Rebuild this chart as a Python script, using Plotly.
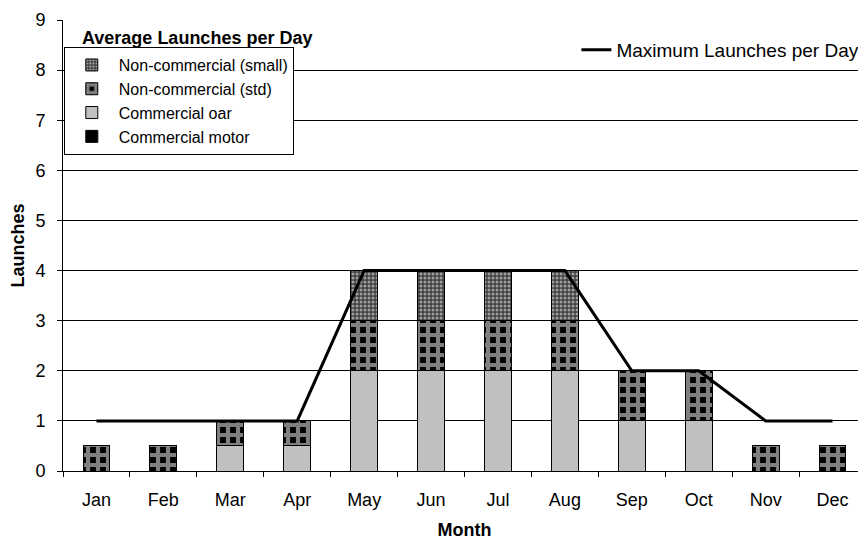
import plotly.graph_objects as go

months = ["Jan", "Feb", "Mar", "Apr", "May", "Jun", "Jul", "Aug", "Sep", "Oct", "Nov", "Dec"]
commercial_motor = [0, 0, 0, 0, 0, 0, 0, 0, 0, 0, 0, 0]
commercial_oar = [0, 0, 0.5, 0.5, 2, 2, 2, 2, 1, 1, 0, 0]
noncommercial_std = [0.5, 0.5, 0.5, 0.5, 1, 1, 1, 1, 1, 1, 0.5, 0.5]
noncommercial_small = [0, 0, 0, 0, 1, 1, 1, 1, 0, 0, 0, 0]
max_launches = [1, 1, 1, 1, 4, 4, 4, 4, 2, 2, 1, 1]

FONT = "Liberation Sans, Arial, sans-serif"
line_k = dict(color="black", width=1)

fig = go.Figure()
fig.add_trace(go.Bar(x=months, y=commercial_motor, name="Commercial motor",
                     marker=dict(color="black", line=line_k), width=0.4, legendrank=4))
fig.add_trace(go.Bar(x=months, y=commercial_oar, name="Commercial oar",
                     marker=dict(color="#c0c0c0", line=line_k), width=0.4, legendrank=3))
fig.add_trace(go.Bar(x=months, y=noncommercial_std, name="Non-commercial (std)",
                     marker=dict(color="white", line=line_k,
                                 pattern=dict(shape="+", fgcolor="white", bgcolor="black",
                                              size=10, solidity=0.66)),
                     width=0.4, legendrank=2))
fig.add_trace(go.Bar(x=months, y=noncommercial_small, name="Non-commercial (small)",
                     marker=dict(color="white", line=line_k,
                                 pattern=dict(shape=".", fgcolor="white", bgcolor="#404040",
                                              size=4, solidity=0.45)),
                     width=0.4, legendrank=1))
fig.add_trace(go.Scatter(x=months, y=max_launches, mode="lines", name="Maximum Launches per Day",
                         line=dict(color="black", width=3), legend="legend2"))

fig.update_layout(
    width=858, height=532,
    margin=dict(l=55, r=0, t=12, b=69),
    paper_bgcolor="white", plot_bgcolor="white",
    barmode="stack",
    font=dict(family=FONT, size=18, color="black"),
    showlegend=True,
    legend=dict(x=0.001, y=0.94, xanchor="left", yanchor="top",
                bgcolor="white", bordercolor="black", borderwidth=1,
                font=dict(size=16), tracegroupgap=0, itemwidth=44,
                traceorder="normal"),
    legend2=dict(x=0.998, y=0.9335, xanchor="right", yanchor="middle",
                 bgcolor="rgba(0,0,0,0)", borderwidth=0, font=dict(size=19)),
    annotations=[dict(text="<b>Average Launches per Day</b>", xref="paper", yref="paper",
                      x=0.0212, y=0.960, xanchor="left", yanchor="middle",
                      showarrow=False, font=dict(size=18, family=FONT))],
)
fig.update_xaxes(showline=True, linecolor="black", linewidth=1, ticks="outside",
                 tickson="boundaries", ticklen=5, tickcolor="black", showgrid=False,
                 title=dict(text="<b>Month</b>", font=dict(size=18), standoff=17),
                 tickfont=dict(size=18), ticklabelstandoff=12)
fig.update_yaxes(range=[0, 9], dtick=1, showline=True, linecolor="black", linewidth=1,
                 ticks="outside", ticklen=5, tickcolor="black",
                 showgrid=True, gridcolor="black", gridwidth=1, zeroline=False,
                 title=dict(text="<b>Launches</b>", font=dict(size=18), standoff=8),
                 tickfont=dict(size=18), ticklabelstandoff=8)

fig.write_html("out.html")
